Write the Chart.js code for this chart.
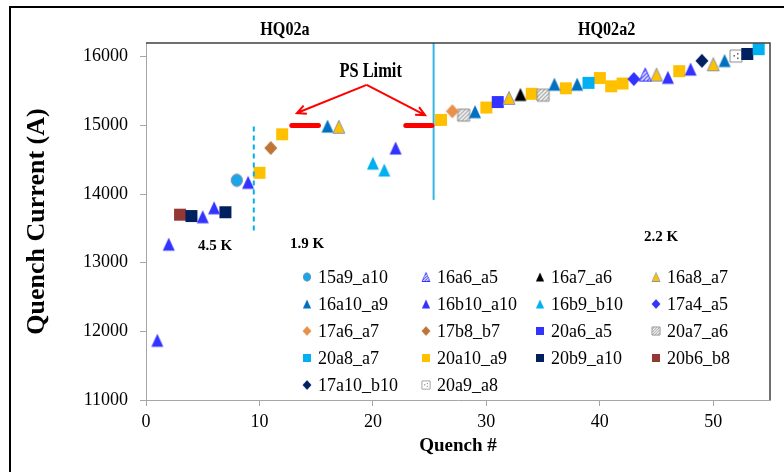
<!DOCTYPE html>
<html>
<head>
<meta charset="utf-8">
<script src="https://cdn.jsdelivr.net/npm/chart.js@4.4.1/dist/chart.umd.min.js"></script>
<style>
  html, body { margin: 0; padding: 0; background: #fff; }
</style>
</head>
<body>
<canvas id="quench" width="784" height="472"></canvas>
<script>
// quench # and quench current (A) for each coil pair
var x_15a9_a10 = [8];
var y_15a9_a10 = [14200];
var x_16a6_a5 = [44];
var y_16a6_a5 = [15740];
var x_16a7_a6 = [33];
var y_16a7_a6 = [15450];
var x_16a8_a7 = [17, 32, 45, 50];
var y_16a8_a7 = [14980, 15400, 15740, 15890];
var x_16a10_a9 = [16, 29, 36, 38, 51];
var y_16a10_a9 = [14990, 15200, 15600, 15600, 15945];
var x_16b10_a10 = [1, 2, 5, 6, 9, 22, 46, 48];
var y_16b10_a10 = [11870, 13270, 13670, 13800, 14170, 14670, 15700, 15820];
var x_16b9_b10 = [20, 21];
var y_16b9_b10 = [14450, 14350];
var x_17a4_a5 = [43];
var y_17a4_a5 = [15675];
var x_17a6_a7 = [27];
var y_17a6_a7 = [15205];
var x_17b8_b7 = [11];
var y_17b8_b7 = [14670];
var x_20a6_a5 = [31];
var y_20a6_a5 = [15340];
var x_20a7_a6 = [28, 35];
var y_20a7_a6 = [15150, 15440];
var x_20a8_a7 = [39, 54];
var y_20a8_a7 = [15620, 16110];
var x_20a10_a9 = [10, 12, 26, 30, 34, 37, 40, 41, 42, 47];
var y_20a10_a9 = [14310, 14870, 15080, 15260, 15460, 15540, 15690, 15570, 15610, 15790];
var x_20b9_a10 = [4, 7, 53];
var y_20b9_a10 = [13680, 13735, 16040];
var x_20b6_b8 = [3];
var y_20b6_b8 = [13700];
var x_17a10_b10 = [49];
var y_17a10_b10 = [15940];
var x_20a9_a8 = [52];
var y_20a9_a8 = [16010];

// power supply limit and run separators
var psLimit = 15000;
var psLimitX1 = [12.85, 15.2];
var psLimitX2 = [22.9, 25.2];
var sepX45 = 9.5;
var sepY45 = [13470, 15040];
var sepXa2 = 25.35;
var sepYa2 = [13915, 16200];

var xTicks = [0, 10, 20, 30, 40, 50];
var yTicks = [11000, 12000, 13000, 14000, 15000, 16000];

var SERIF = '"Liberation Serif", "Times New Roman", serif';

function hatch(fg, bg) {
  var p = document.createElement('canvas');
  p.width = 4; p.height = 4;
  var g = p.getContext('2d');
  g.fillStyle = bg;
  g.fillRect(0, 0, 4, 4);
  g.strokeStyle = fg;
  g.lineWidth = 1.3;
  g.beginPath();
  g.moveTo(0, 4); g.lineTo(4, 0);
  g.moveTo(-1, 1); g.lineTo(1, -1);
  g.moveTo(3, 5); g.lineTo(5, 3);
  g.stroke();
  return p;
}

function marker(shape, fill, stroke, dots) {
  var c = document.createElement('canvas');
  c.width = 16; c.height = 16;
  var g = c.getContext('2d');
  g.beginPath();
  if (shape === 'square') g.rect(2, 2, 12, 12);
  else if (shape === 'triangle') { g.moveTo(8, 1.5); g.lineTo(14, 14.5); g.lineTo(2, 14.5); g.closePath(); }
  else if (shape === 'diamond') { g.moveTo(8, 1); g.lineTo(14.5, 8); g.lineTo(8, 15); g.lineTo(1.5, 8); g.closePath(); }
  else g.ellipse(8, 8, 5.6, 6.2, 0, 0, 2 * Math.PI);
  g.fillStyle = typeof fill === 'string' ? fill : g.createPattern(fill, 'repeat');
  g.fill();
  if (stroke) {
    g.strokeStyle = stroke;
    g.lineWidth = 1;
    g.stroke();
  }
  if (dots) {
    g.fillStyle = '#595959';
    g.fillRect(9, 5, 1.5, 1.5);
    g.fillRect(9, 9.5, 1.5, 1.5);
    g.fillRect(5.5, 7, 1.5, 1.5);
  }
  return c;
}

var series = [
  ['15a9_a10', x_15a9_a10, y_15a9_a10, marker('circle', '#1AA6E8', '#7F8FA6')],
  ['16a6_a5', x_16a6_a5, y_16a6_a5, marker('triangle', hatch('#4444FF', '#fff'), '#3333FF')],
  ['16a7_a6', x_16a7_a6, y_16a7_a6, marker('triangle', '#000000')],
  ['16a8_a7', x_16a8_a7, y_16a8_a7, marker('triangle', '#FFC000', '#8496B0')],
  ['16a10_a9', x_16a10_a9, y_16a10_a9, marker('triangle', '#0070C0')],
  ['16b10_a10', x_16b10_a10, y_16b10_a10, marker('triangle', '#3333FF')],
  ['16b9_b10', x_16b9_b10, y_16b9_b10, marker('triangle', '#00B0F0')],
  ['17a4_a5', x_17a4_a5, y_17a4_a5, marker('diamond', '#3333FF')],
  ['17a6_a7', x_17a6_a7, y_17a6_a7, marker('diamond', '#E8914A')],
  ['17b8_b7', x_17b8_b7, y_17b8_b7, marker('diamond', '#BE7538')],
  ['20a6_a5', x_20a6_a5, y_20a6_a5, marker('square', '#3333FF')],
  ['20a7_a6', x_20a7_a6, y_20a7_a6, marker('square', hatch('#A6A6A6', '#fff'), '#8C8C8C')],
  ['20a8_a7', x_20a8_a7, y_20a8_a7, marker('square', '#00B0F0')],
  ['20a10_a9', x_20a10_a9, y_20a10_a9, marker('square', '#FFC000')],
  ['20b9_a10', x_20b9_a10, y_20b9_a10, marker('square', '#002060')],
  ['20b6_b8', x_20b6_b8, y_20b6_b8, marker('square', '#953735')],
  ['17a10_b10', x_17a10_b10, y_17a10_b10, marker('diamond', '#002060')],
  ['20a9_a8', x_20a9_a8, y_20a9_a8, marker('square', '#FFFFFF', '#8C8C8C', true)]
];

function pts(xs, ys) {
  return xs.map(function (x, i) { return { x: x, y: ys[i] }; });
}

function lineSet(data, color, width, dash, cap) {
  return {
    data: data, showLine: true, pointRadius: 0, borderColor: color,
    borderWidth: width, borderDash: dash || [], borderCapStyle: cap || 'butt'
  };
}

var datasets = [
  lineSet([{ x: psLimitX1[0], y: psLimit }, { x: psLimitX1[1], y: psLimit }], '#FF0000', 5, null, 'round'),
  lineSet([{ x: psLimitX2[0], y: psLimit }, { x: psLimitX2[1], y: psLimit }], '#FF0000', 5, null, 'round'),
  lineSet([{ x: sepX45, y: sepY45[0] }, { x: sepX45, y: sepY45[1] }], '#00B0F0', 2, [5, 4]),
  lineSet([{ x: sepXa2, y: sepYa2[0] }, { x: sepXa2, y: sepYa2[1] }], '#33B5E5', 2)
];
series.forEach(function (s) {
  datasets.push({
    label: s[0], data: pts(s[1], s[2]), pointStyle: s[3], pointRadius: 6, showLine: false
  });
});

function textAt(ctx, text, x, y, size, sx) {
  ctx.save();
  ctx.translate(x, y);
  ctx.scale(sx || 1, 1);
  ctx.font = 'bold ' + size + 'px ' + SERIF;
  ctx.fillStyle = '#000';
  ctx.textAlign = 'center';
  ctx.textBaseline = 'middle';
  ctx.fillText(text, 0, 0);
  ctx.restore();
}

function arrow(ctx, x0, y0, x1, y1) {
  var a = Math.atan2(y1 - y0, x1 - x0);
  ctx.beginPath();
  ctx.moveTo(x0, y0);
  ctx.lineTo(x1, y1);
  ctx.moveTo(x1 - 10 * Math.cos(a - 0.45), y1 - 10 * Math.sin(a - 0.45));
  ctx.lineTo(x1, y1);
  ctx.lineTo(x1 - 10 * Math.cos(a + 0.45), y1 - 10 * Math.sin(a + 0.45));
  ctx.stroke();
}

var decor = {
  id: 'decor',
  beforeDraw: function (chart) {
    var ctx = chart.ctx;
    ctx.save();
    ctx.fillStyle = '#fff';
    ctx.fillRect(0, 0, chart.width, chart.height);
    // slide frame
    ctx.strokeStyle = '#000';
    ctx.lineWidth = 2;
    ctx.beginPath();
    ctx.moveTo(10, chart.height);
    ctx.lineTo(10, 7);
    ctx.lineTo(chart.width, 7);
    ctx.stroke();
    ctx.restore();
  },
  afterDraw: function (chart) {
    var ctx = chart.ctx, a = chart.chartArea;
    var xs = chart.scales.x, ys = chart.scales.y;
    ctx.save();
    // plot frame top / right
    ctx.strokeStyle = '#404040';
    ctx.lineWidth = 1.5;
    ctx.beginPath();
    ctx.moveTo(a.left, a.top);
    ctx.lineTo(a.right, a.top);
    ctx.lineTo(a.right, a.bottom);
    ctx.stroke();

    // PS limit arrows
    ctx.strokeStyle = '#FF0000';
    ctx.lineWidth = 2;
    var fx = xs.getPixelForValue(19.45), fy = ys.getPixelForValue(15590);
    arrow(ctx, fx, fy, xs.getPixelForValue(13.3), ys.getPixelForValue(15180));
    arrow(ctx, fx, fy, xs.getPixelForValue(24.6), ys.getPixelForValue(15150));

    textAt(ctx, 'PS Limit', xs.getPixelForValue(19.8), ys.getPixelForValue(15780), 20, 0.82);
    textAt(ctx, 'HQ02a', xs.getPixelForValue(12.25), a.top - 13, 19, 0.85);
    textAt(ctx, 'HQ02a2', xs.getPixelForValue(40.6), a.top - 13, 19, 0.85);
    textAt(ctx, '4.5 K', xs.getPixelForValue(6.08), ys.getPixelForValue(13245), 15);
    textAt(ctx, '1.9 K', xs.getPixelForValue(14.2), ys.getPixelForValue(13274), 15);
    textAt(ctx, '2.2 K', xs.getPixelForValue(45.4), ys.getPixelForValue(13376), 15);

    // legend, 4 columns
    var colX = [307, 426, 540, 656];
    ctx.font = '18px ' + SERIF;
    ctx.fillStyle = '#000';
    ctx.textAlign = 'left';
    ctx.textBaseline = 'middle';
    series.forEach(function (s, i) {
      var cx = colX[i % 4], cy = 277 + 27 * Math.floor(i / 4);
      ctx.drawImage(s[3], cx - 5.5, cy - 5.5, 11, 11);
      ctx.fillText(s[0], cx + 11, cy + 1);
    });
    ctx.restore();
  }
};

function useTicks(list) {
  return function (scale) {
    scale.ticks = list.map(function (v) { return { value: v }; });
  };
}

function plain(v) { return String(v); }

new Chart(document.getElementById('quench').getContext('2d'), {
  type: 'scatter',
  data: { datasets: datasets },
  options: {
    responsive: false,
    animation: false,
    events: [],
    layout: { padding: { left: 10, right: 14, top: 43, bottom: 0 } },
    plugins: {
      legend: { display: false },
      tooltip: { enabled: false }
    },
    scales: {
      x: {
        type: 'linear',
        min: 0,
        max: 55,
        afterFit: function (s) { s.height = 72; },
        afterBuildTicks: useTicks(xTicks),
        ticks: { color: '#000', padding: 5, maxRotation: 0, autoSkip: false, callback: plain, font: { family: SERIF, size: 18 } },
        grid: { display: true, drawOnChartArea: false, drawTicks: true, tickLength: 6, color: '#A6A6A6' },
        border: { color: '#A6A6A6' },
        title: {
          display: true, text: 'Quench #', color: '#000',
          font: { family: SERIF, size: 19, weight: 'bold' },
          padding: { top: 0, bottom: 15 }
        }
      },
      y: {
        type: 'linear',
        min: 11000,
        max: 16200,
        afterFit: function (s) { s.width = 136; },
        afterBuildTicks: useTicks(yTicks),
        ticks: { color: '#000', padding: 12, autoSkip: false, callback: plain, font: { family: SERIF, size: 18 } },
        grid: { display: true, drawOnChartArea: false, drawTicks: true, tickLength: 6, color: '#A6A6A6' },
        border: { color: '#A6A6A6' },
        title: {
          display: true, text: 'Quench Current (A)', color: '#000',
          font: { family: SERIF, size: 26, weight: 'bold' },
          padding: { top: 12, bottom: 0 }
        }
      }
    }
  },
  plugins: [decor]
});
</script>
</body>
</html>
